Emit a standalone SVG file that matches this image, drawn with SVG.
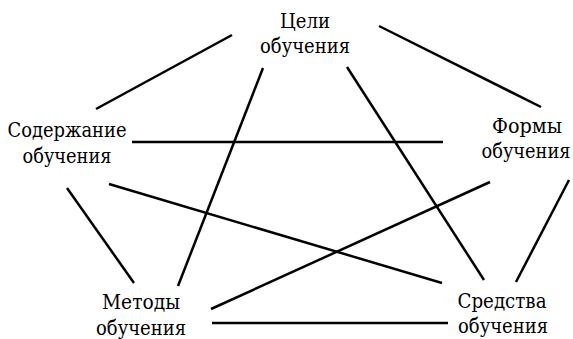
<svg xmlns="http://www.w3.org/2000/svg" width="573" height="339" viewBox="0 0 573 339">
<style>
line{stroke:#000;stroke-width:2.5;stroke-linecap:butt}
text{font-family:"DejaVu Serif",serif;font-size:20px;text-anchor:middle;fill:#000}
</style>
<rect width="573" height="339" fill="#fff"/>
<g id="connectors">
<line x1="96" y1="109" x2="232" y2="35"/>
<line x1="379" y1="26" x2="541" y2="107"/>
<line x1="263" y1="68" x2="178" y2="286"/>
<line x1="347" y1="67" x2="484" y2="280"/>
<line x1="132" y1="142" x2="443" y2="142"/>
<line x1="67" y1="188" x2="134" y2="283"/>
<line x1="109" y1="184" x2="442" y2="283"/>
<line x1="211" y1="309" x2="490" y2="182"/>
<line x1="569" y1="180" x2="516" y2="282"/>
<line x1="212" y1="323" x2="448" y2="323"/>
</g>
<g id="goals"><text x="305" y="28" textLength="50" lengthAdjust="spacingAndGlyphs">Цели</text><text x="305" y="53" textLength="90" lengthAdjust="spacingAndGlyphs">обучения</text></g>
<g id="content"><text x="67" y="137" textLength="119" lengthAdjust="spacingAndGlyphs">Содержание</text><text x="67" y="163" textLength="89" lengthAdjust="spacingAndGlyphs">обучения</text></g>
<g id="forms"><text x="527" y="133" textLength="70" lengthAdjust="spacingAndGlyphs">Формы</text><text x="526" y="158" textLength="89" lengthAdjust="spacingAndGlyphs">обучения</text></g>
<g id="methods"><text x="141" y="309" textLength="78" lengthAdjust="spacingAndGlyphs">Методы</text><text x="141" y="335" textLength="90" lengthAdjust="spacingAndGlyphs">обучения</text></g>
<g id="means"><text x="502" y="308" textLength="89" lengthAdjust="spacingAndGlyphs">Средства</text><text x="503" y="333" textLength="90" lengthAdjust="spacingAndGlyphs">обучения</text></g>
</svg>
